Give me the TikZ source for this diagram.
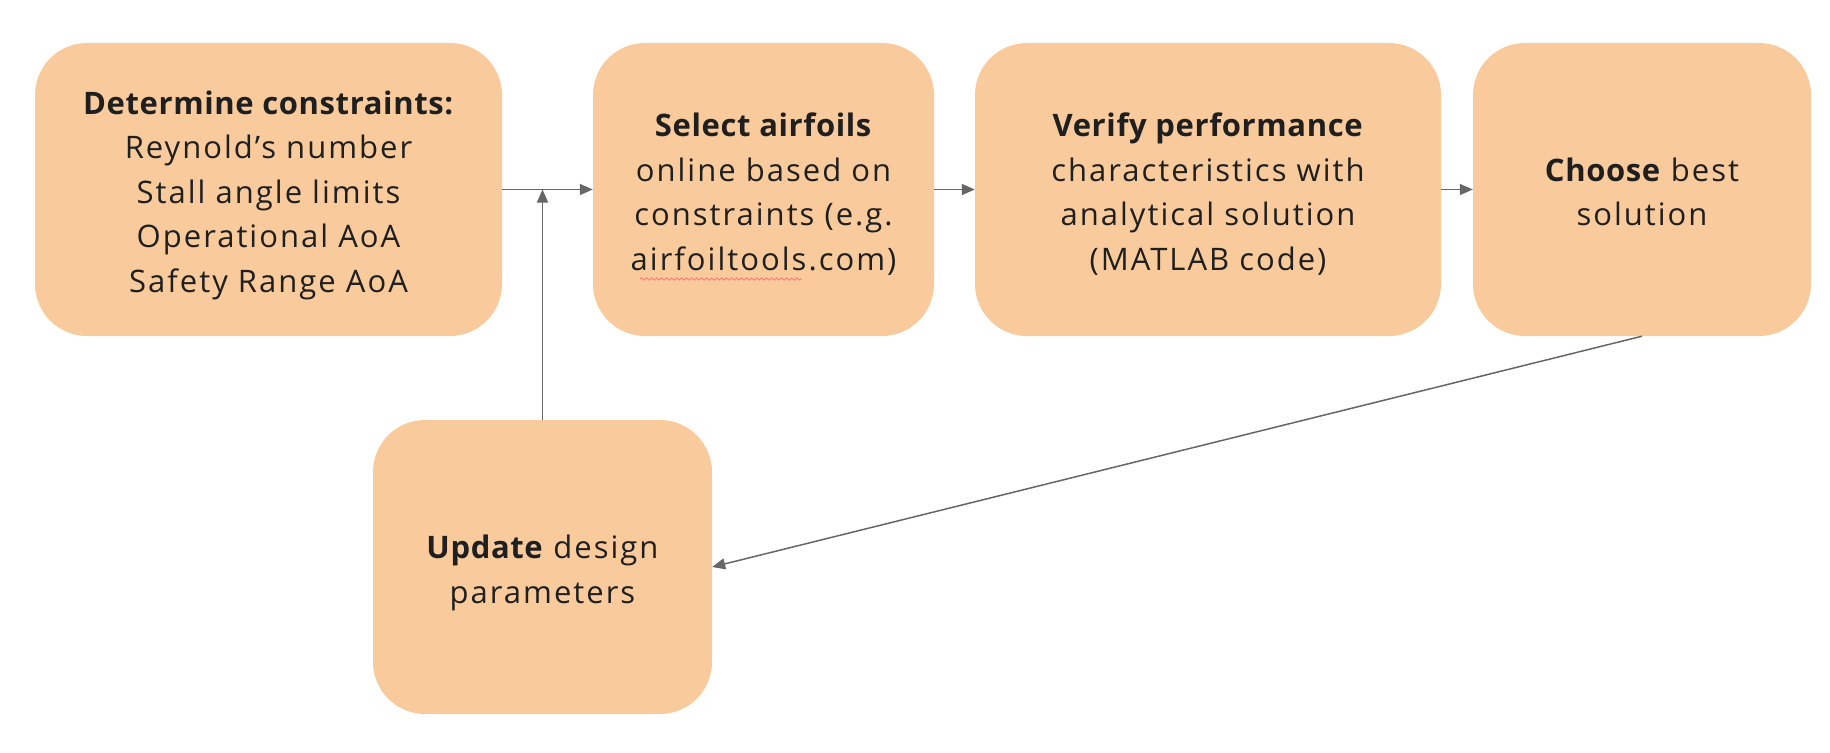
\documentclass[tikz,border=0pt]{standalone}
\usepackage{fontspec}
\setmainfont[LetterSpace=6.5,BoldFeatures={LetterSpace=2}]{Open Sans}
\usetikzlibrary{arrows.meta,decorations.pathmorphing}
\definecolor{boxfill}{HTML}{F9CB9C}
\definecolor{linegray}{HTML}{666666}
\definecolor{txt}{HTML}{1F1F1F}
\newcommand{\boxlines}[1]{\raisebox{-5pt}[\height][\depth]{\begin{tabular}{@{}c@{}}#1\end{tabular}}}
\begin{document}
\begin{tikzpicture}[x=1pt,y=-1pt,
  stepbox/.style={fill=boxfill, draw=none, rounded corners=52pt,
    inner sep=0pt, text=txt, font=\fontsize{31}{44.5}\selectfont},
  conn/.style={draw=linegray, line width=1.5pt, -{Triangle[length=13pt,width=11pt]}}
]
\useasboundingbox (0,0) rectangle (1830,752);
\node[stepbox, minimum width=467pt, minimum height=293pt] (b1) at (268.5,189.5)
  {\boxlines{\textbf{Determine constraints:}\\Reynold’s number\\Stall angle limits\\Operational AoA\\Safety Range AoA}};
\node[stepbox, minimum width=341pt, minimum height=293pt] (b2) at (763.5,189.5)
  {\boxlines{\textbf{Select airfoils}\\online based on\\constraints (e.g.\\airfoiltools.com)}};
\node[stepbox, minimum width=466pt, minimum height=293pt] (b3) at (1208,189.5)
  {\boxlines{\textbf{Verify performance}\\characteristics with\\analytical solution\\(MATLAB code)}};
\node[stepbox, minimum width=338pt, minimum height=293pt] (b4) at (1642,189.5)
  {\boxlines{\textbf{Choose} best\\solution}};
\node[stepbox, minimum width=339pt, minimum height=294pt] (b5) at (542.5,567)
  {\boxlines{\textbf{Update} design\\parameters}};
\coordinate (j) at (b5.north |- b1.east);
\draw[conn] (b1.east) -- (b2.west);
\draw[conn] (b2.east) -- (b3.west);
\draw[conn] (b3.east) -- (b4.west);
\draw[conn] (b5.north) -- (j);
\draw[conn] (b4.south) -- (b5.east);
\coordinate (sq1) at (640,279);
\coordinate (sq2) at (802,279);
\draw[red!55, line width=0.8pt, decorate, decoration={snake, amplitude=1.2pt, segment length=5pt}] (sq1) -- (sq2);
\end{tikzpicture}
\end{document}
